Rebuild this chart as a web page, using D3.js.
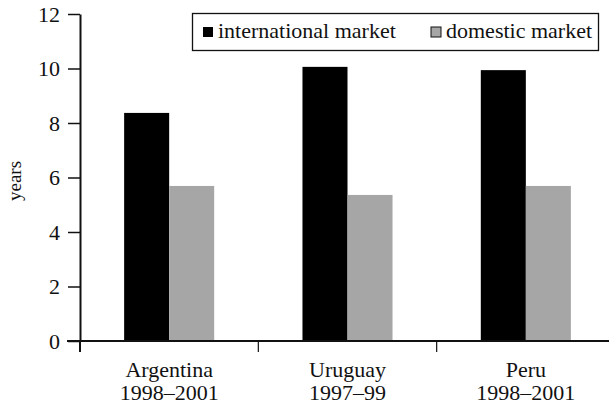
<!DOCTYPE html>
<meta charset="utf-8">
<script src="https://d3js.org/d3.v7.min.js"></script>
<style>
  body { margin: 0; background: #fff; }
  text { font-family: "Liberation Serif", serif; fill: #111; }
</style>
<div id="chart"></div>
<script>
// data
var categories = ["Argentina", "Uruguay", "Peru"];
var periods = ["1998\u20132001", "1997\u201399", "1998\u20132001"];
var series = ["international market", "domestic market"];
var international = [8.37, 10.06, 9.94];
var domestic = [5.69, 5.36, 5.69];
var yTicks = [0, 2, 4, 6, 8, 10, 12];
var colors = ["#000000", "#a6a6a6"];

var W = 609, H = 407;
var mLeft = 80, mRight = 615, mTop = 14, mBottom = 341;

var svg = d3.select("#chart").append("svg")
  .attr("width", W).attr("height", H);

var y = d3.scaleLinear().domain([0, 12]).range([mBottom, mTop]);
var x = d3.scaleBand().domain(categories).range([mLeft, mRight]).padding(0);
var bw = x.bandwidth();
var x1 = d3.scaleBand().domain(series).range([bw * 0.2475, bw * 0.7525]);

var values = [international, domestic];

// bars
series.forEach(function(s, si) {
  svg.append("g")
    .selectAll("rect")
    .data(categories)
    .enter()
    .append("rect")
      .attr("x", function(d) { return x(d) + x1(s); })
      .attr("width", x1.bandwidth())
      .attr("y", function(d, i) { return y(values[si][i]); })
      .attr("height", function(d, i) { return mBottom - y(values[si][i]); })
      .style("fill", colors[si]);
});

// y axis
var yAxis = svg.append("g")
  .attr("transform", "translate(" + mLeft + ",0)")
  .call(d3.axisLeft(y).tickValues(yTicks).tickSize(12).tickSizeOuter(0).tickPadding(8));
yAxis.select(".domain").attr("stroke", "#111").attr("stroke-width", 2);
yAxis.selectAll(".tick line").attr("stroke", "#111").attr("stroke-width", 1.5);
yAxis.selectAll(".tick text").style("font-size", "22px").style("font-family", "Liberation Serif").attr("fill", "#111");

// x axis line and ticks at band edges
svg.append("line")
  .attr("x1", mLeft - 13).attr("x2", W)
  .attr("y1", mBottom).attr("y2", mBottom)
  .attr("stroke", "#111").attr("stroke-width", 2);
var edges = categories.map(function(c) { return x(c); });
svg.append("g")
  .selectAll("line")
  .data(edges)
  .enter()
  .append("line")
    .attr("x1", function(d) { return d; }).attr("x2", function(d) { return d; })
    .attr("y1", mBottom).attr("y2", mBottom + 11)
    .attr("stroke", "#111")
    .attr("stroke-width", function(d, i) { return i == 0 ? 2 : 1.2; });

// category labels
var lab = svg.append("g").selectAll("text")
  .data(categories)
  .enter()
  .append("text")
    .attr("text-anchor", "middle")
    .style("font-size", "22px");
lab.append("tspan")
  .attr("x", function(d) { return x(d) + bw / 2; })
  .attr("y", 377)
  .text(function(d) { return d; });
lab.append("tspan")
  .attr("x", function(d) { return x(d) + bw / 2; })
  .attr("y", 400)
  .text(function(d, i) { return periods[i]; });

// y label
svg.append("text")
  .attr("transform", "translate(21,181) rotate(-90)")
  .attr("text-anchor", "middle")
  .style("font-size", "19px")
  .text("years");

// legend
svg.append("rect")
  .attr("x", 192.5).attr("y", 13.5).attr("width", 406).attr("height", 37)
  .attr("fill", "#fff").attr("stroke", "#111").attr("stroke-width", 1.3);
var legX = [203, 431];
series.forEach(function(s, i) {
  svg.append("rect")
    .attr("x", legX[i]).attr("y", 27).attr("width", 10).attr("height", 10)
    .attr("fill", colors[i])
    .attr("stroke", "#111").attr("stroke-width", i == 0 ? 0 : 1);
  svg.append("text")
    .attr("x", legX[i] + 15).attr("y", 38)
    .style("font-size", "22px")
    .text(s);
});
</script>
